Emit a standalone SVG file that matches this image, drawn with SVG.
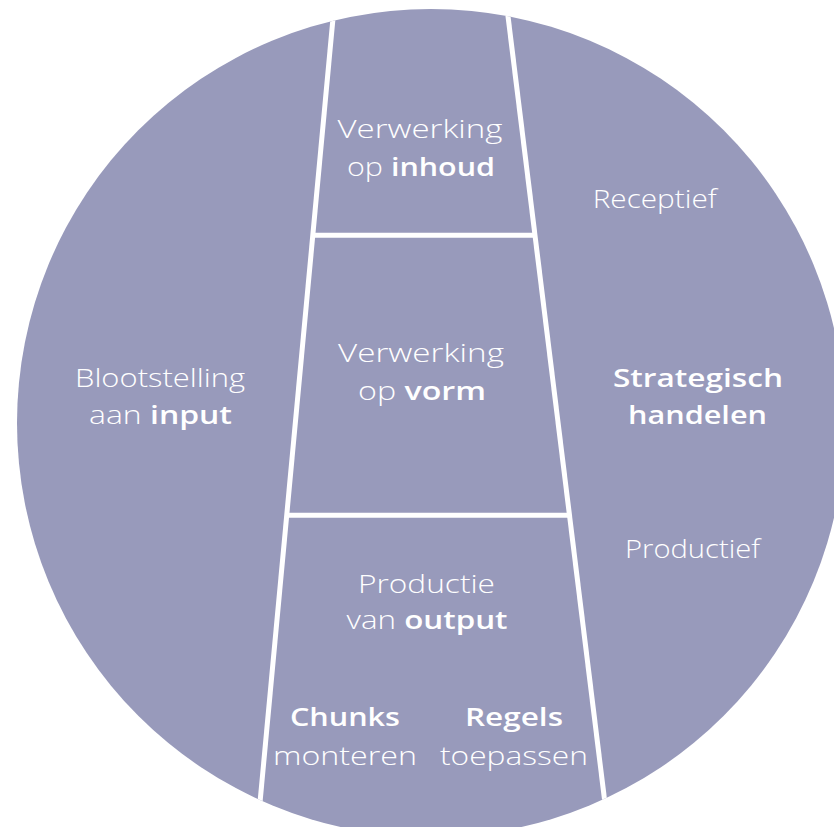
<svg xmlns="http://www.w3.org/2000/svg" width="834" height="827" viewBox="0 0 834 827">
  <defs>
    <clipPath id="circ">
      <circle cx="431" cy="423" r="414"/>
    </clipPath>
    <style>
      .t { font-family: "Open Sans", "Lato", "Liberation Sans", sans-serif; font-size: 26px; font-weight: 300; fill: #ffffff; text-anchor: middle; }
      .b { font-weight: 600; }
      .div { stroke: #ffffff; stroke-width: 5; fill: none; }
    </style>
  </defs>
  <rect width="834" height="827" fill="#ffffff"/>
  <circle id="disc" cx="431" cy="423" r="414" fill="#989abb"/>

  <g id="dividers" clip-path="url(#circ)">
    <line class="div" x1="334.7" y1="0" x2="256.5" y2="840"/>
    <line class="div" x1="506" y1="0" x2="609.5" y2="840"/>
    <line class="div" x1="312" y1="235.3" x2="536" y2="235.3"/>
    <line class="div" x1="286" y1="515.3" x2="570" y2="515.3"/>
  </g>

  <g id="node-inhoud">
    <text class="t" x="420" y="138" textLength="165" lengthAdjust="spacingAndGlyphs">Verwerking</text>
    <text class="t" x="421" y="176" textLength="148" lengthAdjust="spacingAndGlyphs">op <tspan class="b">inhoud</tspan></text>
  </g>

  <g id="node-vorm">
    <text class="t" x="421" y="362" textLength="166" lengthAdjust="spacingAndGlyphs">Verwerking</text>
    <text class="t" x="422" y="400" textLength="128" lengthAdjust="spacingAndGlyphs">op <tspan class="b">vorm</tspan></text>
  </g>

  <g id="node-output">
    <text class="t" x="426.5" y="593" textLength="137" lengthAdjust="spacingAndGlyphs">Productie</text>
    <text class="t" x="427" y="629" textLength="161" lengthAdjust="spacingAndGlyphs">van <tspan class="b">output</tspan></text>
  </g>

  <g id="node-chunks">
    <text class="t b" x="345" y="726" textLength="110" lengthAdjust="spacingAndGlyphs">Chunks</text>
    <text class="t" x="345" y="765" textLength="144" lengthAdjust="spacingAndGlyphs">monteren</text>
  </g>

  <g id="node-regels">
    <text class="t b" x="514" y="726" textLength="98" lengthAdjust="spacingAndGlyphs">Regels</text>
    <text class="t" x="514" y="765" textLength="148" lengthAdjust="spacingAndGlyphs">toepassen</text>
  </g>

  <g id="node-input">
    <text class="t" x="160" y="387" textLength="170" lengthAdjust="spacingAndGlyphs">Blootstelling</text>
    <text class="t" x="160.5" y="424" textLength="143" lengthAdjust="spacingAndGlyphs">aan <tspan class="b">input</tspan></text>
  </g>

  <g id="node-strategisch">
    <text class="t" x="654.7" y="208" textLength="124" lengthAdjust="spacingAndGlyphs">Receptief</text>
    <text class="t b" x="698" y="387" textLength="170" lengthAdjust="spacingAndGlyphs">Strategisch</text>
    <text class="t b" x="697.5" y="424" textLength="139" lengthAdjust="spacingAndGlyphs">handelen</text>
    <text class="t" x="692.5" y="558" textLength="135" lengthAdjust="spacingAndGlyphs">Productief</text>
  </g>
</svg>
